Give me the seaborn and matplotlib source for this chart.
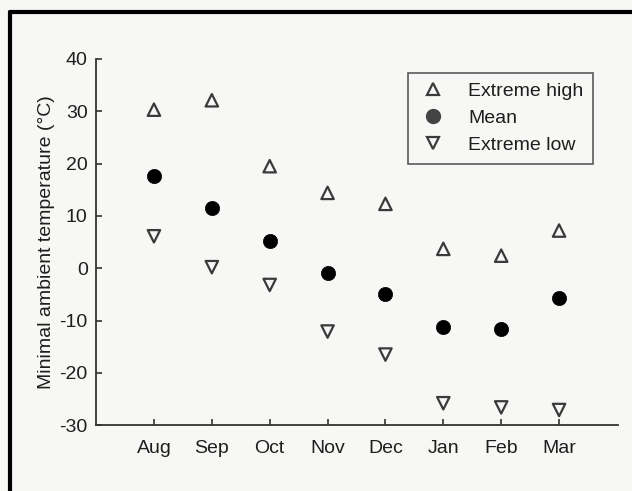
import matplotlib
matplotlib.use("Agg")
import matplotlib.pyplot as plt
import seaborn as sns
import pandas as pd
from matplotlib.lines import Line2D

months = ["Aug", "Sep", "Oct", "Nov", "Dec", "Jan", "Feb", "Mar"]
extreme_high = [30.3, 32.1, 19.5, 14.4, 12.3, 3.7, 2.4, 7.2]
mean_temp = [17.7, 11.5, 5.2, -1.0, -5.0, -11.3, -11.6, -5.7]
extreme_low = [6.1, 0.2, -3.2, -12.1, -16.5, -25.8, -26.6, -27.1]
yticks = [-30, -20, -10, 0, 10, 20, 30, 40]

sns.set_theme(style="ticks")
plt.rcParams["font.family"] = ["Liberation Sans", "DejaVu Sans"]
plt.rcParams["axes.unicode_minus"] = False

bg = "#f7f7f5"
fig = plt.figure(figsize=(6.32, 4.91), dpi=100, facecolor=bg)
ax = fig.add_axes([0.152, 0.134, 0.826, 0.746])
ax.set_facecolor(bg)

df = pd.DataFrame({"month": months, "pos": range(len(months)),
                   "high": extreme_high, "mean": mean_temp, "low": extreme_low})

edge = "#3a3a3a"
sns.scatterplot(data=df, x="pos", y="high", ax=ax, marker="^", s=80,
                facecolor="none", edgecolor=edge, linewidth=1.6)
sns.scatterplot(data=df, x="pos", y="mean", ax=ax, marker="o", s=105,
                color="black", edgecolor="black", linewidth=0.5)
sns.scatterplot(data=df, x="pos", y="low", ax=ax, marker="v", s=80,
                facecolor="none", edgecolor=edge, linewidth=1.6)

ax.set_xlim(-1, 8.02)
ax.set_ylim(-30, 40)
ax.set_xticks(range(len(months)))
ax.set_xticklabels(months)
ax.set_yticks(yticks)
ax.set_xlabel("")
ax.set_ylabel("Minimal ambient temperature (°C)", fontsize=14, color="#1e1e1e", labelpad=3)
ax.tick_params(axis="both", direction="in", length=4, width=1.2, colors="#333333",
               labelsize=14, labelcolor="#1e1e1e", pad=6)
ax.tick_params(axis="x", pad=11)

for side in ["top", "right"]:
    ax.spines[side].set_visible(False)
for side in ["left", "bottom"]:
    ax.spines[side].set_color("#333333")
    ax.spines[side].set_linewidth(1.3)

handles = [
    Line2D([], [], marker="^", linestyle="none", markersize=8.5, markerfacecolor="none",
           markeredgecolor=edge, markeredgewidth=1.6),
    Line2D([], [], marker="o", linestyle="none", markersize=10, color="#444444"),
    Line2D([], [], marker="v", linestyle="none", markersize=8.5, markerfacecolor="none",
           markeredgecolor=edge, markeredgewidth=1.6),
]
leg = ax.legend(handles, ["Extreme high", "Mean", "Extreme low"], loc="upper right",
                bbox_to_anchor=(0.952, 0.962), frameon=True, fancybox=False,
                fontsize=14, handlelength=1.6, handletextpad=1.0,
                labelspacing=0.48, borderpad=0.5, borderaxespad=0)
leg.get_frame().set_edgecolor("#333333")
leg.get_frame().set_linewidth(1.2)
leg.get_frame().set_facecolor(bg)
for t in leg.get_texts():
    t.set_color("#1e1e1e")

# scanned frame: top and left border lines
fig.add_artist(Line2D([10 / 632, 1.0], [1 - 12 / 491, 1 - 12 / 491],
                      transform=fig.transFigure, color="black", linewidth=3))
fig.add_artist(Line2D([10 / 632, 10 / 632], [0.0, 1 - 12 / 491],
                      transform=fig.transFigure, color="black", linewidth=3))

fig.savefig("out.png", dpi=100, facecolor=bg)
